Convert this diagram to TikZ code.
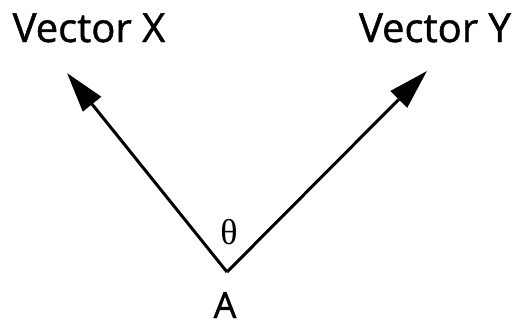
\documentclass[tikz,border=0pt]{standalone}
\usepackage{fontspec}
\setmainfont{Open Sans}
\newfontfamily\lblfont{Open Sans}[FakeBold=1.2]
\newfontfamily\thetafont{Liberation Serif}
\usetikzlibrary{arrows.meta}
\begin{document}
\begin{tikzpicture}[x=1pt,y=-1pt,
  vec/.style={line width=3pt,-{Triangle[length=40pt,width=23pt]}},
  lbl/.style={inner sep=0pt,text depth=0pt,font=\lblfont\fontsize{40}{40}\selectfont}]
\useasboundingbox (0,0) rectangle (519,325);
\coordinate (A) at (227,272);
\coordinate (X) at (67,73);
\coordinate (Y) at (427,71);
\draw[vec] (A) -- (X);
\draw[vec] (A) -- (Y);
\node[lbl,anchor=base] (vx) at (89,42) {Vector X};
\node[lbl,anchor=base] (vy) at (435,42) {Vector Y};
\node[inner sep=0pt,font=\thetafont\fontsize{36}{36}\selectfont] (th) at (229,232) {θ};
\node[lbl,anchor=base,font=\lblfont\fontsize{36}{36}\selectfont] (a) at (225,318) {A};
\end{tikzpicture}
\end{document}
